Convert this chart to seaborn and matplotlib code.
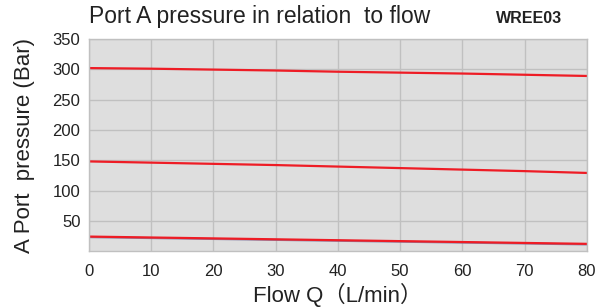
import seaborn as sns
import matplotlib.pyplot as plt

# data
flow = [0, 10, 20, 30, 40, 50, 60, 70, 80]
p_high = [302, 301, 299.5, 298, 296, 294.5, 293, 291, 289]
p_mid = [148, 146, 144, 142, 139.5, 137, 134.5, 132, 129]
p_low = [24, 22.5, 21, 19.5, 18, 16.5, 15, 13.5, 12]
p_low_shadow = [23, 21.5, 20, 18.5, 17, 15.5, 14, 12.5, 11]
x_ticks = [0, 10, 20, 30, 40, 50, 60, 70, 80]
y_ticks = [50, 100, 150, 200, 250, 300, 350]

sns.set_style("whitegrid")
plt.rcParams['font.family'] = ['Liberation Sans', 'Noto Sans CJK SC']

fig = plt.figure(figsize=(6, 3.07), dpi=100)
ax = fig.add_axes([0.148, 0.182, 0.83, 0.691])
ax.set_facecolor("#dedede")

sns.lineplot(x=flow, y=p_low_shadow, color="#7a6f9a", linewidth=1.5, ax=ax, alpha=0.8)
for y in (p_high, p_mid, p_low):
    sns.lineplot(x=flow, y=y, color="#ee1c25", linewidth=1.6, ax=ax)

ax.set_xlim(0, 80)
ax.set_ylim(0, 350)
ax.set_xticks(x_ticks)
ax.set_yticks(y_ticks)
ax.grid(True, color="#c0c0c0", linewidth=1.0)
ax.tick_params(axis='both', labelsize=12, colors="#222222", length=0)
ax.tick_params(axis='y', pad=6)
ax.tick_params(axis='x', pad=9)
for spine in ax.spines.values():
    spine.set_edgecolor("#c0c0c0")
    spine.set_linewidth(1.0)

ax.set_xlabel("Flow Q（L/min）", fontsize=16, color="#222222", labelpad=3)
ax.set_ylabel("A Port  pressure (Bar)", fontsize=16, color="#222222", labelpad=13)

fig.text(0.148, 0.925, "Port A pressure in relation  to flow", fontsize=16.5, color="#222222")
fig.text(0.937, 0.925, "WREE03", fontsize=11.5, fontweight='bold', color="#222222", ha='right')

plt.savefig("out.png", dpi=100)
